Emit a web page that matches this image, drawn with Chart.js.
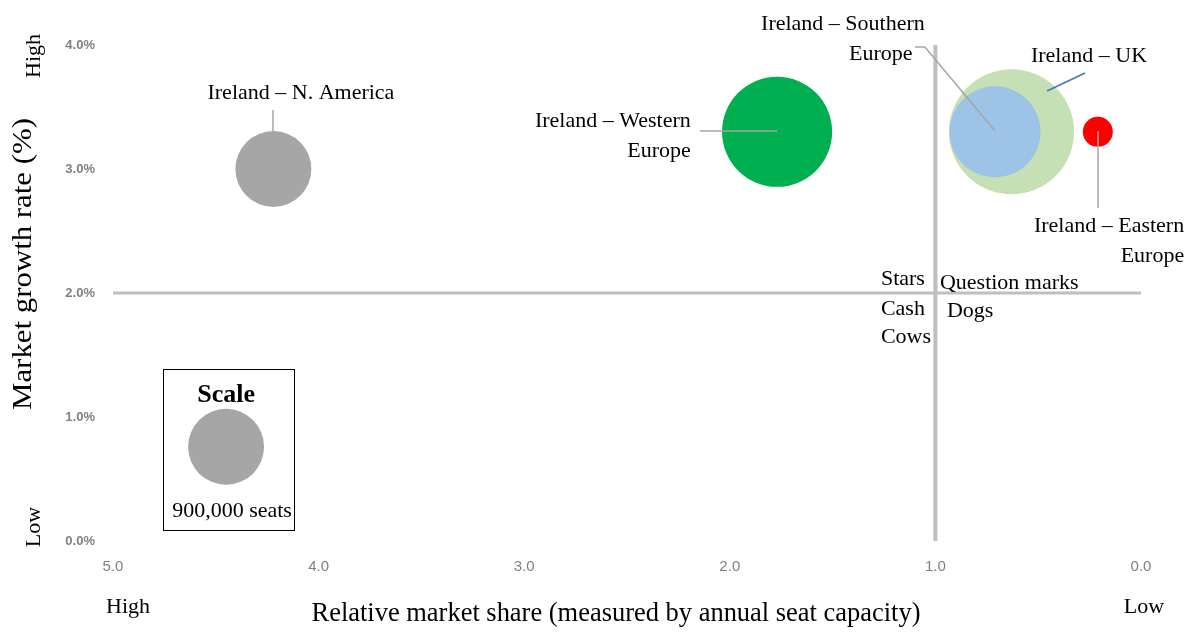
<!DOCTYPE html>
<html><head><meta charset="utf-8">
<script src="https://cdn.jsdelivr.net/npm/chart.js@4/dist/chart.umd.min.js"></script>
<style>html,body{margin:0;padding:0;background:#fff;}</style>
</head><body>
<canvas id="c" width="1195" height="635"></canvas>
<script>
// ---- data ----
const regionNames = ['Ireland – N. America', 'Ireland – Western Europe', 'Ireland – UK', 'Ireland – Southern Europe', 'Ireland – Eastern Europe'];
const relativeShare = [4.22, 1.77, 0.63, 0.71, 0.21];
const growthRate = [3.0, 3.3, 3.3, 3.3, 3.3];
const seatCapacity = [900000, 1890000, 2440000, 1290000, 140000];
const scaleSeats = [900000];
const scaleShare = [4.45];
const scaleGrowth = [0.76];
const shareDivider = [1.0];
const growthDivider = [2.0];
const xTickValues = [5, 4, 3, 2, 1, 0];
const yTickValues = [0, 1, 2, 3, 4];

// ---- styles ----
const colors = ['#a6a6a6', '#00b050', '#c5e0b4', '#9dc3e6', '#ff0000'];
const drawOrder = [1, 1, 3, 2, 1];
const refRadius = 38;
const radiusFor = s => refRadius * Math.sqrt(s / scaleSeats[0]);
const SERIF = '"Liberation Serif", "Times New Roman", serif';

const datasets = [];
regionNames.forEach((n, i) => {
  datasets.push({
    label: n, type: 'bubble',
    data: [{x: relativeShare[i], y: growthRate[i], r: radiusFor(seatCapacity[i])}],
    backgroundColor: colors[i], borderWidth: 0, hoverBorderWidth: 0, hoverRadius: 0,
    order: drawOrder[i]
  });
});
datasets.push({
  label: 'Scale', type: 'bubble',
  data: [{x: scaleShare[0], y: scaleGrowth[0], r: radiusFor(scaleSeats[0])}],
  backgroundColor: '#a6a6a6', borderWidth: 0, hoverBorderWidth: 0, hoverRadius: 0, order: 1
});
datasets.push({
  type: 'line', label: 'h', data: [{x: 5, y: growthDivider[0]}, {x: 0, y: growthDivider[0]}],
  borderColor: '#bfbfbf', borderWidth: 3, pointRadius: 0, order: 10
});
datasets.push({
  type: 'line', label: 'v', data: [{x: shareDivider[0], y: 0}, {x: shareDivider[0], y: 4}],
  borderColor: '#bfbfbf', borderWidth: 4, pointRadius: 0, order: 10
});

// annotations (data coordinates)
const texts = [
  {t: 'Ireland – N. America', x: 4.086, y: 3.629, a: 'center'},
  {t: 'Ireland – Western', x: 2.19, y: 3.403, a: 'right'},
  {t: 'Europe', x: 2.19, y: 3.161, a: 'right'},
  {t: 'Ireland – Southern', x: 1.848, y: 4.185, a: 'left'},
  {t: 'Europe', x: 1.42, y: 3.944, a: 'left'},
  {t: 'Ireland – UK', x: 0.253, y: 3.927, a: 'center'},
  {t: 'Ireland – Eastern', x: -0.21, y: 2.556, a: 'right'},
  {t: 'Europe', x: -0.21, y: 2.315, a: 'right'},
  {t: 'Stars', x: 1.265, y: 2.129, a: 'left'},
  {t: 'Question marks', x: 0.978, y: 2.097, a: 'left'},
  {t: 'Cash', x: 1.265, y: 1.887, a: 'left'},
  {t: 'Dogs', x: 0.944, y: 1.871, a: 'left'},
  {t: 'Cows', x: 1.265, y: 1.661, a: 'left'},
  {t: '900,000 seats', x: 4.421, y: 0.258, a: 'center'},
  {t: 'Scale', x: 4.45, y: 1.194, a: 'center', bold: true}
];
const leaders = [
  {c: '#a6a6a6', pts: [[4.222, 3.476], [4.222, 3.306]]},
  {c: '#a6a6a6', pts: [[2.145, 3.306], [1.77, 3.306]]},
  {c: '#a6a6a6', pts: [[1.099, 3.984], [1.051, 3.984], [0.71, 3.306]]},
  {c: '#4472c4', pts: [[0.272, 3.774], [0.457, 3.629]]},
  {c: '#a6a6a6', pts: [[0.209, 3.306], [0.209, 2.685]]}
];
const scaleBox = [[4.757, 1.387], [4.120, 0.089]];

function fitText(ctx, text, cx, cy, width) {
  const w = ctx.measureText(text).width;
  ctx.save(); ctx.translate(cx, cy); ctx.scale(width / w, 1);
  ctx.fillText(text, 0, 0); ctx.restore();
}

const annot = {
  id: 'annot',
  afterDatasetsDraw(chart) {
    const ctx = chart.ctx, xs = chart.scales.x, ys = chart.scales.y;
    const X = v => xs.getPixelForValue(v), Y = v => ys.getPixelForValue(v);
    ctx.save();
    // scale box
    ctx.strokeStyle = '#000'; ctx.lineWidth = 1;
    const x1 = Math.round(X(scaleBox[0][0])) + 0.5, y1 = Math.round(Y(scaleBox[0][1])) + 0.5;
    const x2 = Math.round(X(scaleBox[1][0])) + 0.5, y2 = Math.round(Y(scaleBox[1][1])) + 0.5;
    ctx.strokeRect(x1, y1, x2 - x1, y2 - y1);
    // leaders
    leaders.forEach(l => {
      ctx.strokeStyle = l.c; ctx.lineWidth = 1.5; ctx.beginPath();
      l.pts.forEach((p, i) => i ? ctx.lineTo(X(p[0]), Y(p[1])) : ctx.moveTo(X(p[0]), Y(p[1])));
      ctx.stroke();
    });
    // texts
    ctx.fillStyle = '#000'; ctx.textBaseline = 'middle';
    texts.forEach(o => {
      ctx.font = (o.bold ? 'bold 26px ' : '22px ') + SERIF;
      ctx.textAlign = o.a;
      ctx.fillText(o.t, X(o.x), Y(o.y) + 2);
    });
    // axis titles & high/low
    ctx.textAlign = 'center';
    ctx.font = '28px ' + SERIF;
    fitText(ctx, 'Relative market share (measured by annual seat capacity)', 616, 614, 609);
    ctx.font = '22px ' + SERIF;
    ctx.fillText('High', 128, 607);
    ctx.fillText('Low', 1144, 607);
    ctx.save(); ctx.translate(24, 264); ctx.rotate(-Math.PI / 2);
    ctx.font = '28px ' + SERIF; fitText(ctx, 'Market growth rate (%)', 0, 0, 292);
    ctx.restore();
    ctx.save(); ctx.translate(34, 56); ctx.rotate(-Math.PI / 2);
    ctx.font = '22px ' + SERIF; ctx.fillText('High', 0, 0); ctx.restore();
    ctx.save(); ctx.translate(34, 527); ctx.rotate(-Math.PI / 2);
    ctx.font = '22px ' + SERIF; ctx.fillText('Low', 0, 0); ctx.restore();
    ctx.restore();
  }
};

new Chart(document.getElementById('c'), {
  type: 'bubble',
  data: {datasets},
  options: {
    responsive: false, animation: false,
    layout: {autoPadding: false, padding: {top: 45, right: 54, bottom: 0, left: 0}},
    plugins: {legend: {display: false}, tooltip: {enabled: false}},
    events: [],
    scales: {
      x: {
        type: 'linear', reverse: true, min: 0, max: 5,
        afterFit: s => { s.height = 94; s.paddingLeft = 0; s.paddingRight = 0; },
        afterBuildTicks: s => { s.ticks = xTickValues.map(v => ({value: v})); },
        grid: {display: false, drawTicks: false}, border: {display: false},
        ticks: {padding: 17, color: '#808080', font: {family: '"Liberation Sans Narrow", "Liberation Sans", sans-serif', size: 15},
          callback: v => Number(v).toFixed(1)}
      },
      y: {
        type: 'linear', min: 0, max: 4,
        afterFit: s => { s.width = 113; s.paddingTop = 0; s.paddingBottom = 0; },
        afterBuildTicks: s => { s.ticks = yTickValues.map(v => ({value: v})); },
        grid: {display: false, drawTicks: false}, border: {display: false},
        ticks: {padding: 18, color: '#808080', font: {family: '"Liberation Sans", sans-serif', size: 13, weight: 'bold'},
          callback: v => Number(v).toFixed(1) + '%'}
      }
    }
  },
  plugins: [annot]
});
</script>
</body></html>
